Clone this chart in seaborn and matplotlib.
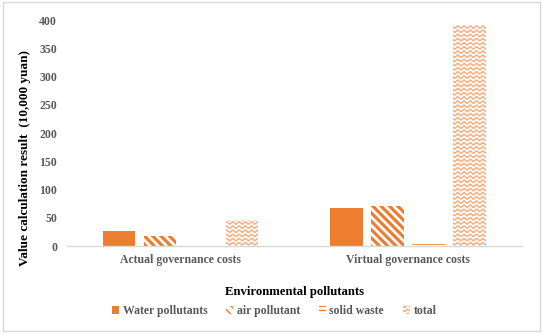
import numpy as np
import pandas as pd
import matplotlib
matplotlib.use("Agg")
import matplotlib.pyplot as plt
import matplotlib.hatch as mhatch
from matplotlib.path import Path
from matplotlib.patches import Rectangle
import seaborn as sns
import warnings

# -------------------------
# Data
# -------------------------
categories = ["Actual governance costs", "Virtual governance costs"]
series = ["Water pollutants", "air pollutant", "solid waste", "total"]
water = [27, 68]
air = [18, 71]
solid = [0, 4]
total = [46, 391]

df = pd.DataFrame({
    "cost": categories * 4,
    "pollutant": [s for s in series for _ in categories],
    "value": water + air + solid + total,
})

# -------------------------
# Custom wavy hatch for the "total" series ('~')
# -------------------------
class WaveHatch(mhatch.HatchPatternBase):
    def __init__(self, hatch, density):
        self.num_lines = int(hatch.count("~") * density)
        self.pts = 160
        self.num_vertices = self.num_lines * self.pts

    def set_vertices_and_codes(self, vertices, codes):
        if self.num_lines == 0:
            return
        steps, stepsize = np.linspace(0.0, 1.0, self.num_lines, False, retstep=True)
        xs = np.linspace(0.0, 1.0, self.pts)
        amp = stepsize * 0.3
        for i, y in enumerate(steps + stepsize / 2):
            sl = slice(i * self.pts, (i + 1) * self.pts)
            vertices[sl, 0] = xs
            vertices[sl, 1] = y + amp * np.sin(xs * 2 * np.pi * 16)
            codes[sl] = Path.LINETO
            codes[i * self.pts] = Path.MOVETO

mhatch._hatch_types.append(WaveHatch)
warnings.filterwarnings("ignore")

# -------------------------
# Style
# -------------------------
sns.set_theme(style="white")
plt.rcParams["font.family"] = ["Liberation Serif", "DejaVu Serif"]
plt.rcParams["hatch.linewidth"] = 1.0

orange = "#ED7D31"
light = "#F4B183"
gray = "#595959"

fig = plt.figure(figsize=(5.43, 3.34), dpi=100)
ax = fig.add_axes([0.123, 0.263, 0.838, 0.677])

sns.barplot(data=df, x="cost", y="value", hue="pollutant", hue_order=series,
            order=categories, width=0.72, gap=0.2, ax=ax, legend=False)

styles = [
    dict(face=orange, edge=orange, hatch=None, hlw=1.0),
    dict(face="white", edge=orange, hatch="\\\\\\\\", hlw=2.3),
    dict(face="white", edge=orange, hatch="----", hlw=1.5),
    dict(face="white", edge=light, hatch="~~~~", hlw=1.0),
]


def style_patch(p, st):
    p.set_facecolor(st["face"])
    p.set_edgecolor(st["edge"])
    p.set_linewidth(0)
    if st["hatch"]:
        p.set_hatch(st["hatch"])
        if hasattr(p, "set_hatch_linewidth"):
            p.set_hatch_linewidth(st["hlw"])
        else:
            p._hatch_linewidth = st["hlw"]


for cont, st in zip(ax.containers, styles):
    for p in cont:
        style_patch(p, st)

ax.set_ylim(0, 400)
ax.set_yticks(range(0, 401, 50))
ax.set_xlim(-0.5, 1.5)
for s in ["top", "right", "left"]:
    ax.spines[s].set_visible(False)
ax.spines["bottom"].set_color("#D9D9D9")
ax.spines["bottom"].set_linewidth(1)
ax.tick_params(axis="both", length=0, labelsize=8.5, labelcolor=gray)
ax.tick_params(axis="y", pad=7)
ax.tick_params(axis="x", pad=6)
for lab in ax.get_yticklabels() + ax.get_xticklabels():
    lab.set_fontweight("bold")

ax.set_ylabel("Value calculation result  (10,000 yuan)", fontsize=9.5,
              fontweight="bold", color="black")
ax.yaxis.set_label_coords(-0.078, 0.39)
ax.set_xlabel("Environmental pollutants", fontsize=9.2, fontweight="bold",
              color="black", labelpad=14)

# legend
handles = []
for st, name in zip(styles, series):
    h = Rectangle((0, 0), 1, 1, label=name)
    style_patch(h, st)
    handles.append(h)
leg = fig.legend(handles=handles, loc="center", bbox_to_anchor=(0.505, 0.069), ncol=4,
                 frameon=False, fontsize=8.5, handlelength=0.6, handleheight=0.6,
                 columnspacing=1.6, handletextpad=0.3)
for t in leg.get_texts():
    t.set_color(gray)
    t.set_fontweight("bold")

# outer frame
fig.patches.append(Rectangle((0.005, 0.008), 0.99, 0.985, transform=fig.transFigure,
                             fill=False, edgecolor="#D9D9D9", linewidth=1))

fig.savefig("out.png", dpi=100)
